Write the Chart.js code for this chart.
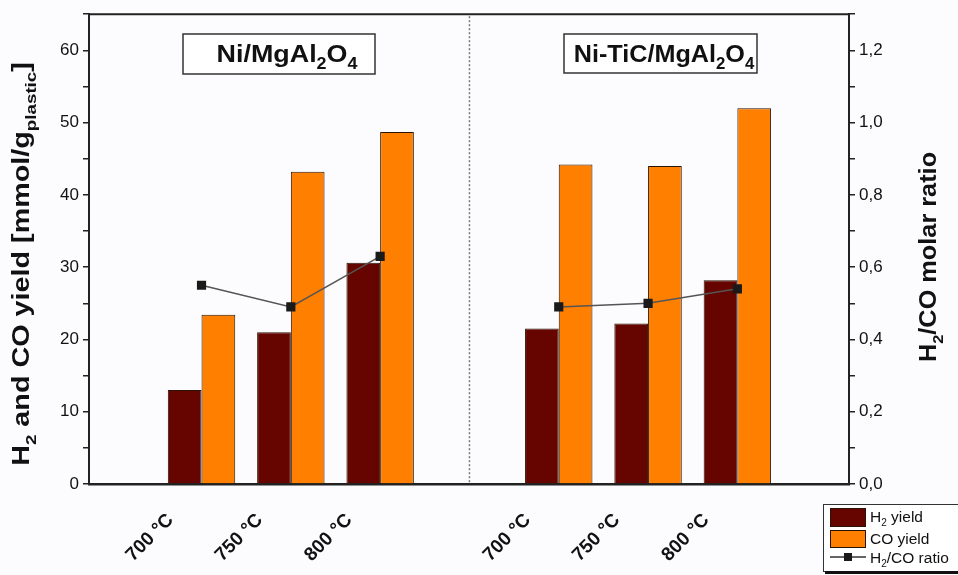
<!DOCTYPE html>
<html><head><meta charset="utf-8">
<script src="https://cdn.jsdelivr.net/npm/chart.js@4"></script>
<style>html,body{margin:0;padding:0;background:#fcfcfe;} canvas{display:block;}</style>
</head><body>
<canvas id="c" width="958" height="575"></canvas>
<script>
// ---- data ----
const tempLabels = ['700 °C', '750 °C', '800 °C', '700 °C', '750 °C', '800 °C'];
const xPos = [1, 2, 3, 5, 6, 7];
const h2Yield = [13.0, 21.0, 30.6, 21.5, 22.2, 28.2];
const coYield = [23.4, 43.2, 48.7, 44.2, 44.0, 52.0];
const h2coRatio = [0.55, 0.49, 0.63, 0.49, 0.50, 0.54];
const separatorPos = 4;
const leftTitle = [['H', 0], ['2', 1], [' and CO yield [mmol/g', 0], ['plastic', 1], [']', 0]];
const rightTitle = [['H', 0], ['2', 1], ['/CO molar ratio', 0]];
const panelTitles = [
  [['Ni/MgAl', 0], ['2', 1], ['O', 0], ['4', 1]],
  [['Ni-TiC/MgAl', 0], ['2', 1], ['O', 0], ['4', 1]]
];
const legendLabels = [
  [['H', 0], ['2', 1], [' yield', 0]],
  [['CO yield', 0]],
  [['H', 0], ['2', 1], ['/CO ratio', 0]]
];
const H2_COLOR = '#660500', CO_COLOR = '#ff7f00', EDGE = '#2a140a';

const FONT = "'Liberation Sans', Arial, Helvetica, sans-serif";
Chart.defaults.font.family = FONT;

// points of the ratio line, with a break between the two catalyst groups
const ratioPoints = [];
xPos.forEach((x, i) => {
  if (i > 0 && x - xPos[i - 1] > 1) ratioPoints.push({ x: (x + xPos[i - 1]) / 2, y: null });
  ratioPoints.push({ x: x, y: h2coRatio[i] });
});

function drawRich(ctx, segs, cx, cy, o) {
  const size = o.size, subK = o.sub || 0.65, sx = o.sx || 1, weight = o.bold === false ? 'normal' : 'bold';
  const fontOf = s => `${weight} ${s ? Math.round(size * subK) : size}px ${FONT}`;
  const ws = segs.map(([t, s]) => { ctx.font = fontOf(s); return ctx.measureText(t).width; });
  const total = ws.reduce((a, b) => a + b, 0);
  ctx.save();
  ctx.translate(cx, cy);
  ctx.rotate(o.rot || 0);
  ctx.scale(sx, 1);
  ctx.fillStyle = o.color || '#111';
  ctx.textBaseline = 'alphabetic';
  ctx.textAlign = 'left';
  let x = o.align === 'left' ? 0 : -total / 2;
  const base = size * 0.36;
  segs.forEach(([t, s], i) => {
    ctx.font = fontOf(s);
    ctx.fillText(t, x, s ? base + size * 0.3 : base);
    x += ws[i];
  });
  ctx.restore();
}

const decor = {
  id: 'decor',
  beforeDatasetsDraw(chart) {
    const { ctx, chartArea: a, scales } = chart;
    const xs = scales.x.getPixelForValue(separatorPos);
    ctx.save();
    ctx.strokeStyle = '#777';
    ctx.lineWidth = 1.5;
    ctx.setLineDash([2, 2]);
    ctx.beginPath(); ctx.moveTo(xs, a.top + 2); ctx.lineTo(xs, a.bottom); ctx.stroke();
    ctx.restore();
  },
  afterDraw(chart) {
    const { ctx, chartArea: a } = chart;
    ctx.save();
    // top frame line
    ctx.strokeStyle = '#222'; ctx.lineWidth = 2;
    ctx.beginPath(); ctx.moveTo(a.left, a.top); ctx.lineTo(a.right, a.top); ctx.stroke();
    // panel title boxes
    const boxes = [[183, 34, 192, 40, 287, 1.12], [564, 34, 193, 39, 664, 1.05]];
    boxes.forEach((b, i) => {
      ctx.fillStyle = '#ffffff';
      ctx.fillRect(b[0], b[1], b[2], b[3]);
      ctx.strokeStyle = '#333'; ctx.lineWidth = 1.5;
      ctx.strokeRect(b[0], b[1], b[2], b[3]);
      drawRich(ctx, panelTitles[i], b[4], 53, { size: 24, sx: b[5] });
    });
    ctx.restore();
    // axis titles
    drawRich(ctx, leftTitle, 20.5, 264, { size: 23, sx: 1.25, rot: -Math.PI / 2 });
    drawRich(ctx, rightTitle, 928, 257, { size: 23, sx: 1.1, rot: -Math.PI / 2 });
    // legend
    ctx.save();
    ctx.fillStyle = '#ffffff';
    ctx.fillRect(823, 504, 140, 67);
    ctx.strokeStyle = '#333'; ctx.lineWidth = 1;
    ctx.strokeRect(823.5, 504.5, 140, 67);
    ctx.fillStyle = '#111'; ctx.fillRect(825, 571, 140, 3);
    ctx.lineWidth = 1; ctx.strokeStyle = EDGE;
    ctx.fillStyle = H2_COLOR; ctx.fillRect(830, 508, 35, 18); ctx.strokeRect(830.5, 508.5, 35, 18);
    ctx.fillStyle = CO_COLOR; ctx.fillRect(830, 530, 35, 17); ctx.strokeRect(830.5, 530.5, 35, 17);
    ctx.strokeStyle = '#333'; ctx.lineWidth = 1.5;
    ctx.beginPath(); ctx.moveTo(830, 557); ctx.lineTo(866, 557); ctx.stroke();
    ctx.fillStyle = '#1a1a1a'; ctx.fillRect(844, 553, 8, 8);
    ctx.restore();
    drawRich(ctx, legendLabels[0], 870, 516, { size: 15.5, bold: false, align: 'left' });
    drawRich(ctx, legendLabels[1], 870, 538, { size: 15.5, bold: false, align: 'left' });
    drawRich(ctx, legendLabels[2], 870, 557, { size: 15.5, bold: false, align: 'left' });
  }
};

new Chart(document.getElementById('c'), {
  type: 'bar',
  data: {
    datasets: [
      {
        type: 'line', label: 'H2/CO ratio', data: ratioPoints, yAxisID: 'y1', order: 0,
        borderColor: '#555', borderWidth: 1.5, spanGaps: false, tension: 0,
        pointStyle: 'rect', pointRadius: 6.5, pointBackgroundColor: '#1a1a1a', pointBorderColor: '#1a1a1a', pointBorderWidth: 0
      },
      {
        label: 'H2 yield', data: xPos.map((x, i) => ({ x: x, y: h2Yield[i] })), yAxisID: 'y', order: 1,
        backgroundColor: H2_COLOR, borderColor: EDGE, borderWidth: 1, categoryPercentage: 0.755, barPercentage: 1
      },
      {
        label: 'CO yield', data: xPos.map((x, i) => ({ x: x, y: coYield[i] })), yAxisID: 'y', order: 1,
        backgroundColor: CO_COLOR, borderColor: EDGE, borderWidth: 1, categoryPercentage: 0.755, barPercentage: 1
      }
    ]
  },
  options: {
    responsive: false,
    animation: false,
    devicePixelRatio: 1,
    layout: { padding: { top: 13, left: 0, right: 0, bottom: 0 } },
    plugins: { legend: { display: false }, tooltip: { enabled: false } },
    scales: {
      x: {
        type: 'linear', min: -0.26, max: 8.25, offset: false,
        afterBuildTicks: s => { s.ticks = xPos.map(v => ({ value: v })); },
        afterFit: s => { s.height = 91; },
        grid: { display: false, drawTicks: false, offset: false },
        border: { color: '#222', width: 2.5 },
        ticks: {
          autoSkip: false, minRotation: 45, maxRotation: 45, padding: 25, labelOffset: -31,
          color: '#111', font: { size: 19, weight: 'bold' },
          callback: (v, i) => tempLabels[i]
        }
      },
      y: {
        position: 'left', min: 0, max: 65,
        afterFit: s => { s.width = 89; },
        grid: { drawOnChartArea: false, tickLength: 6, color: '#222', lineWidth: 1.5 },
        border: { color: '#222', width: 2 },
        ticks: { stepSize: 5, padding: 4, color: '#111', font: { size: 17 }, callback: v => (v % 10 === 0 ? v : '') }
      },
      y1: {
        position: 'right', min: 0, max: 1.3,
        afterFit: s => { s.width = 109; },
        grid: { drawOnChartArea: false, tickLength: 6, color: '#222', lineWidth: 1.5 },
        border: { color: '#222', width: 2 },
        ticks: {
          stepSize: 0.1, padding: 4, color: '#111', font: { size: 17 },
          callback: v => { const k = Math.round(v * 10); return k % 2 === 0 ? (k / 10).toFixed(1).replace('.', ',') : ''; }
        }
      }
    }
  },
  plugins: [decor]
});
</script>
</body></html>
